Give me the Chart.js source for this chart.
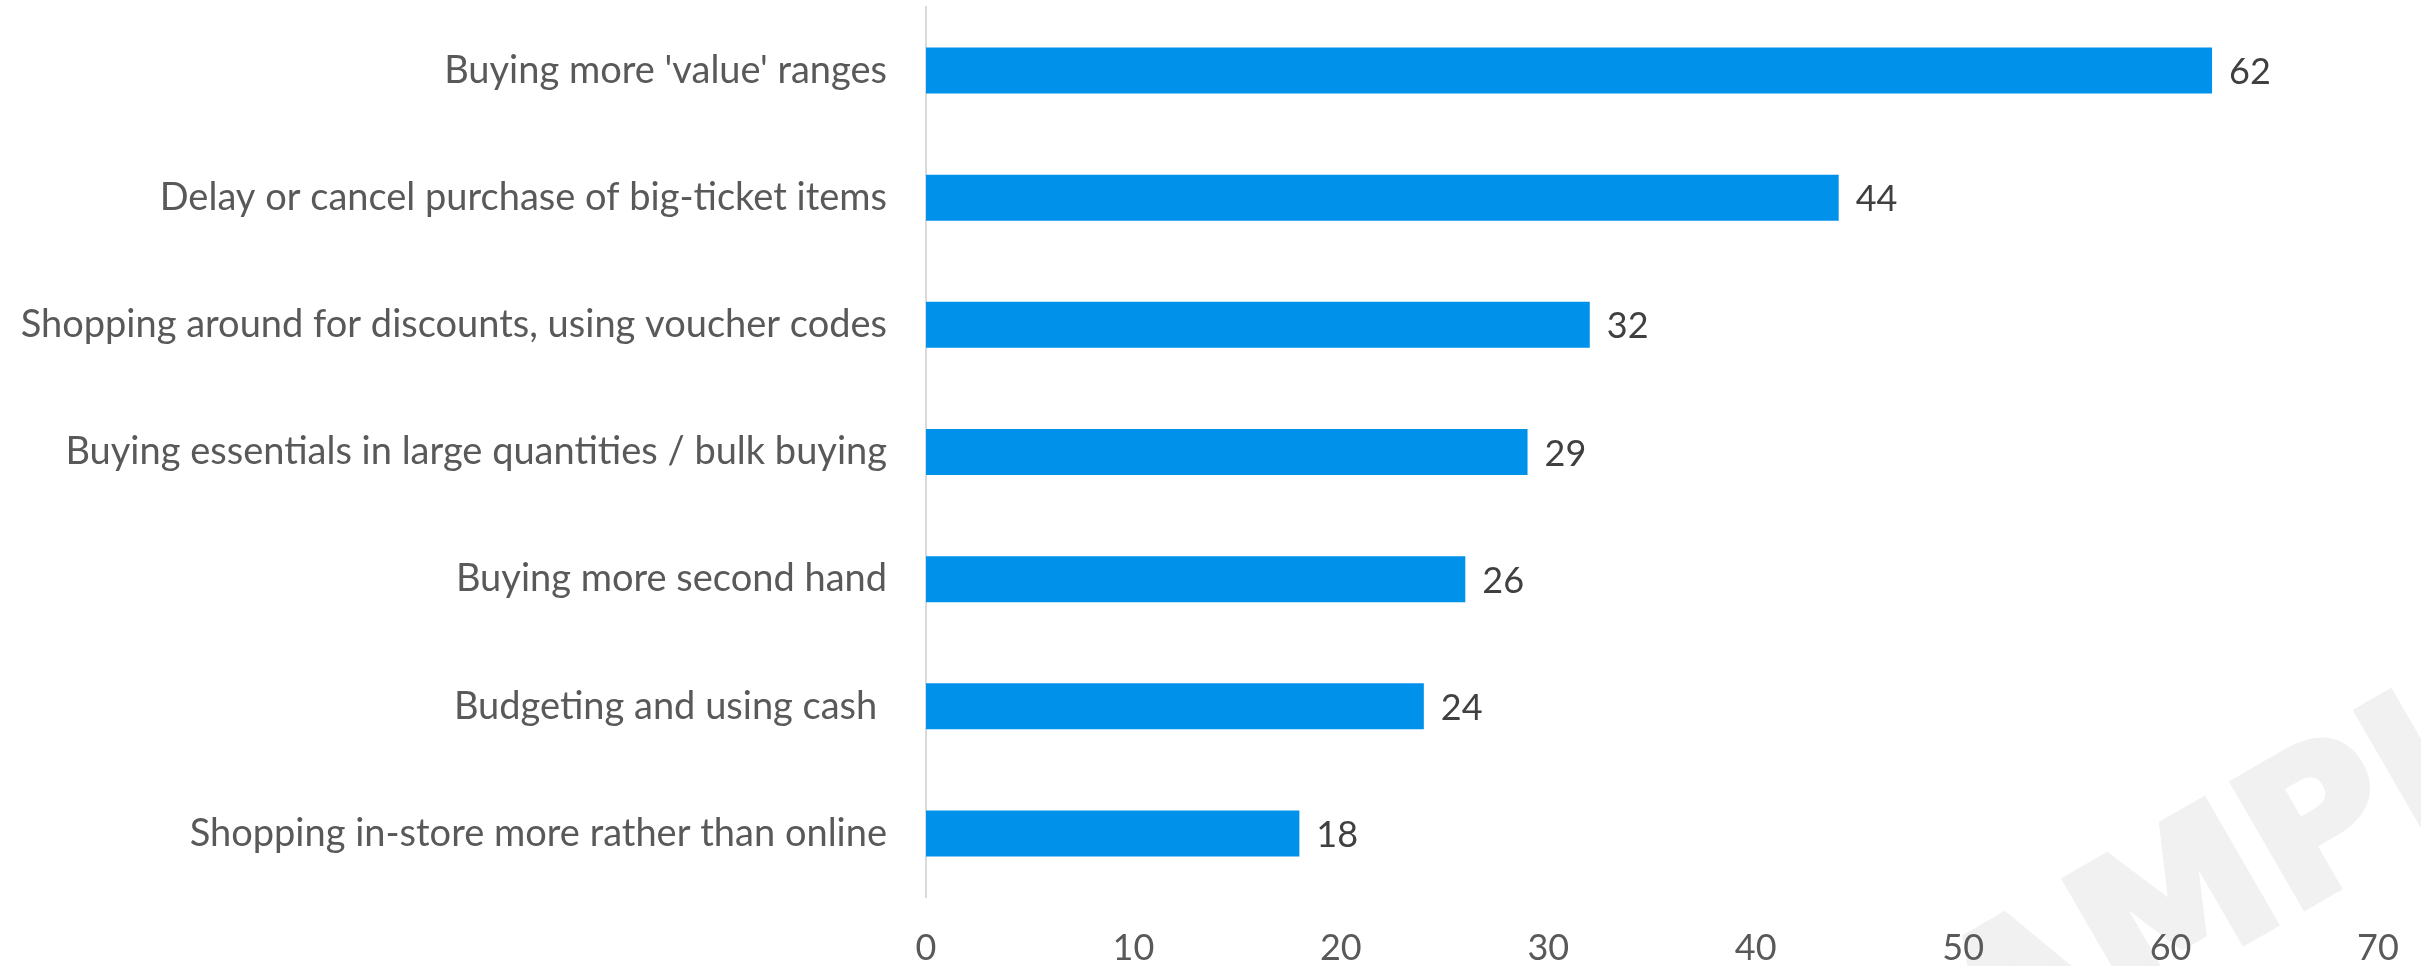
<!DOCTYPE html>
<html>
<head>
<meta charset="utf-8">
<script src="https://cdn.jsdelivr.net/npm/chart.js@4.4.1/dist/chart.umd.min.js"></script>
<style>
    body { margin: 0; background: #ffffff; }
    #wrap { width: 2421px; height: 966px; position: relative; }
</style>
</head>
<body>
<div id="wrap"><canvas id="barChart"></canvas></div>
<script>
// Chart data
const categories = [
    "Buying more 'value' ranges",
    'Delay or cancel purchase of big-ticket items',
    'Shopping around for discounts, using voucher codes',
    'Buying essentials in large quantities / bulk buying',
    'Buying more second hand',
    'Budgeting and using cash ',
    'Shopping in-store more rather than online'
];
const values = [62, 44, 32, 29, 26, 24, 18];
const axisMin = 0;
const axisMax = 70;
const axisStep = 10;

const barColor = '#0091EA';
const labelFont = 'Lato';

// Faint watermark behind everything
const watermarkPlugin = {
    id: 'watermark',
    beforeDraw(chart) {
        const ctx = chart.ctx;
        ctx.save();
        ctx.translate(2290, 915);
        ctx.rotate(-30 * Math.PI / 180);
        ctx.font = 'bold 195px "DejaVu Sans"';
        ctx.fillStyle = '#f1f1f1';
        ctx.strokeStyle = '#f1f1f1';
        ctx.lineWidth = 8;
        ctx.lineJoin = 'miter';
        ctx.textAlign = 'left';
        ctx.textBaseline = 'alphabetic';
        // M/P boundary sits at the origin
        const start = -ctx.measureText('SAM').width;
        ctx.fillText('SAMPLE', start, 0);
        ctx.strokeText('SAMPLE', start, 0);
        ctx.restore();
    }
};

// Value labels at the end of each bar
const valueLabelPlugin = {
    id: 'valueLabels',
    afterDatasetsDraw(chart) {
        const ctx = chart.ctx;
        const meta = chart.getDatasetMeta(0);
        ctx.save();
        ctx.font = '36px ' + labelFont;
        ctx.fillStyle = '#404040';
        ctx.textAlign = 'left';
        ctx.textBaseline = 'middle';
        meta.data.forEach((bar, i) => {
            ctx.fillText(values[i], bar.x + 17, bar.y + 2);
        });
        ctx.restore();
    }
};

const ctx = document.getElementById('barChart').getContext('2d');
new Chart(ctx, {
    type: 'bar',
    data: {
        labels: categories,
        datasets: [{
            data: values,
            backgroundColor: barColor,
            borderWidth: 0,
            barPercentage: 0.362,
            categoryPercentage: 1.0
        }]
    },
    options: {
        indexAxis: 'y',
        responsive: true,
        maintainAspectRatio: false,
        animation: false,
        layout: {
            padding: { top: 7, right: 43, bottom: 0, left: 0 }
        },
        plugins: {
            legend: { display: false },
            tooltip: { enabled: false }
        },
        scales: {
            x: {
                min: axisMin,
                max: axisMax,
                grid: { display: false, drawTicks: false },
                border: { display: false },
                ticks: {
                    stepSize: axisStep,
                    padding: 30,
                    color: '#595959',
                    font: { family: labelFont, size: 36 }
                },
                afterFit(scale) {
                    scale.height = 69;
                    scale.paddingLeft = 0;
                    scale.paddingRight = 0;
                }
            },
            y: {
                grid: { display: false, drawTicks: false },
                border: { display: true, color: '#d9d9d9', width: 2 },
                ticks: {
                    autoSkip: false,
                    padding: 39,
                    color: '#595959',
                    font: { family: labelFont, size: 38 }
                },
                afterFit(scale) {
                    scale.width = 926;
                    scale.paddingTop = 0;
                    scale.paddingBottom = 0;
                }
            }
        }
    },
    plugins: [watermarkPlugin, valueLabelPlugin]
});
</script>
</body>
</html>
